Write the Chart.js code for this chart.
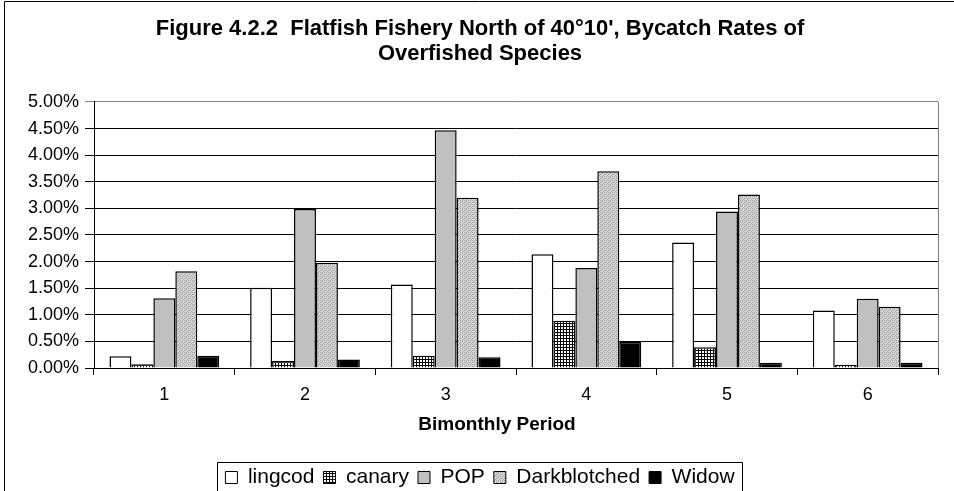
<!DOCTYPE html>
<html>
<head>
<meta charset="utf-8">
<script src="https://cdn.jsdelivr.net/npm/chart.js@4/dist/chart.umd.min.js"></script>
<style>
  html, body { margin: 0; padding: 0; background: #fff; overflow: hidden; }
  #wrap { position: relative; width: 954px; height: 498px; }
</style>
</head>
<body>
<div id="wrap"><canvas id="c" width="954" height="498"></canvas></div>
<script>
// ---- data (values in percent) ----
const titleLines = ["Figure 4.2.2  Flatfish Fishery North of 40\u00B010', Bycatch Rates of", "Overfished Species"];
const xAxisTitle = "Bimonthly Period";
const categories = ["1", "2", "3", "4", "5", "6"];
const seriesNames = ["lingcod", "canary", "POP", "Darkblotched", "Widow"];
const lingcod      = [0.22, 1.51, 1.57, 2.14, 2.36, 1.08];
const canary       = [0.07, 0.13, 0.23, 0.89, 0.39, 0.06];
const pop          = [1.31, 2.99, 4.47, 1.88, 2.94, 1.30];
const darkblotched = [1.82, 1.98, 3.20, 3.70, 3.26, 1.15];
const widow        = [0.23, 0.16, 0.20, 0.49, 0.10, 0.10];
const yTickValues  = [0, 0.5, 1, 1.5, 2, 2.5, 3, 3.5, 4, 4.5, 5];

// ---- fill patterns ----
function makePattern(size, draw) {
  const cv = document.createElement('canvas');
  cv.width = size; cv.height = size;
  const g = cv.getContext('2d');
  draw(g);
  return g.createPattern(cv, 'repeat');
}
const ctxMain = document.getElementById('c').getContext('2d');
const canaryPattern = makePattern(3, g => {
  g.fillStyle = '#ffffff'; g.fillRect(0, 0, 3, 3);
  g.fillStyle = '#000000'; g.fillRect(0, 2, 3, 1); g.fillRect(2, 0, 1, 3);
});
const darkPattern = makePattern(4, g => {
  g.fillStyle = '#dcdcdc'; g.fillRect(0, 0, 4, 4);
  g.fillStyle = '#a0a0a0';
  g.fillRect(0, 0, 1, 1); g.fillRect(2, 1, 1, 1); g.fillRect(1, 2, 1, 1); g.fillRect(3, 3, 1, 1);
  g.fillRect(2, 0, 1, 1); g.fillRect(0, 2, 1, 1);
});
const fills = ['#ffffff', canaryPattern, '#c0c0c0', darkPattern, '#000000'];
const seriesData = [lingcod, canary, pop, darkblotched, widow];

const FONT = "'Liberation Sans', Arial, sans-serif";

const framePlugin = {
  id: 'frame',
  afterDraw(chart) {
    const c = chart.ctx, a = chart.chartArea;
    c.save();
    // outer chart frame (left & top)
    c.strokeStyle = '#000'; c.lineWidth = 1;
    c.beginPath();
    c.moveTo(4.5, chart.height); c.lineTo(4.5, 1.5); c.lineTo(chart.width, 1.5);
    c.stroke();
    // plot area right border
    c.strokeStyle = '#808080';
    c.beginPath();
    c.moveTo(Math.round(a.right) + 0.5, a.top); c.lineTo(Math.round(a.right) + 0.5, a.bottom);
    c.stroke();
    // x axis title (placed as in the reference, slightly left of plot centre)
    c.fillStyle = '#000';
    c.font = "bold 19px " + FONT;
    c.textAlign = 'center'; c.textBaseline = 'middle';
    c.fillText(xAxisTitle, 497, 425);
    // legend frame
    const lg = chart.legend;
    if (lg && lg.legendHitBoxes && lg.legendHitBoxes.length) {
      const hb = lg.legendHitBoxes;
      const l = Math.min(...hb.map(h => h.left)) - 8;
      const r = Math.max(...hb.map(h => h.left + h.width)) + 7;
      const t = lg.top + 4.5;
      c.strokeStyle = '#000';
      c.beginPath();
      c.moveTo(Math.round(l) + 0.5, chart.height + 2);
      c.lineTo(Math.round(l) + 0.5, t);
      c.lineTo(Math.round(r) + 0.5, t);
      c.lineTo(Math.round(r) + 0.5, chart.height + 2);
      c.stroke();
    }
    c.restore();
  }
};

new Chart(ctxMain, {
  type: 'bar',
  data: {
    labels: categories,
    datasets: seriesNames.map((name, i) => ({
      label: name,
      data: seriesData[i],
      backgroundColor: fills[i],
      borderColor: '#000000',
      borderWidth: 1.5,
      categoryPercentage: 0.78,
      barPercentage: 1.0
    }))
  },
  options: {
    responsive: false,
    animation: false,
    devicePixelRatio: 1,
    layout: { padding: { left: 22, right: 16, top: 0, bottom: 0 } },
    plugins: {
      title: {
        display: true,
        text: titleLines,
        color: '#000',
        font: { family: FONT, size: 22, weight: 'bold', lineHeight: 1.136 },
        padding: { top: 16, bottom: 36 }
      },
      legend: {
        display: true,
        position: 'bottom',
        labels: {
          color: '#000',
          font: { family: FONT, size: 21 },
          boxWidth: 12,
          boxHeight: 12,
          padding: 9,
          generateLabels(chart) {
            return chart.data.datasets.map((ds, i) => ({
              text: ds.label,
              fillStyle: ds.backgroundColor,
              strokeStyle: '#000',
              lineWidth: 1,
              hidden: false,
              datasetIndex: i
            }));
          }
        }
      },
      tooltip: { enabled: false }
    },
    scales: {
      x: {
        offset: true,
        grid: { display: true, offset: true, drawOnChartArea: false, drawTicks: true, tickLength: 7, color: '#000' },
        border: { display: true, color: '#000', width: 1 },
        ticks: { color: '#000', font: { family: FONT, size: 18 }, padding: 9 },
        title: { display: false, text: xAxisTitle },
        afterFit(scale) { scale.height = 90; }
      },
      y: {
        min: 0, max: 5,
        afterBuildTicks(scale) { scale.ticks = yTickValues.map(v => ({ value: v })); },
        grid: {
          color: ctx => (ctx.tick && ctx.tick.value === 5) ? '#808080' : '#000',
          lineWidth: 1, drawTicks: true, tickLength: 9
        },
        border: { display: true, color: '#000', width: 1 },
        ticks: {
          color: '#000', font: { family: FONT, size: 18 }, padding: 6,
          callback: v => Number(v).toFixed(2) + '%'
        },
        afterFit(scale) { scale.width = 72; }
      }
    }
  },
  plugins: [framePlugin]
});
</script>
</body>
</html>
